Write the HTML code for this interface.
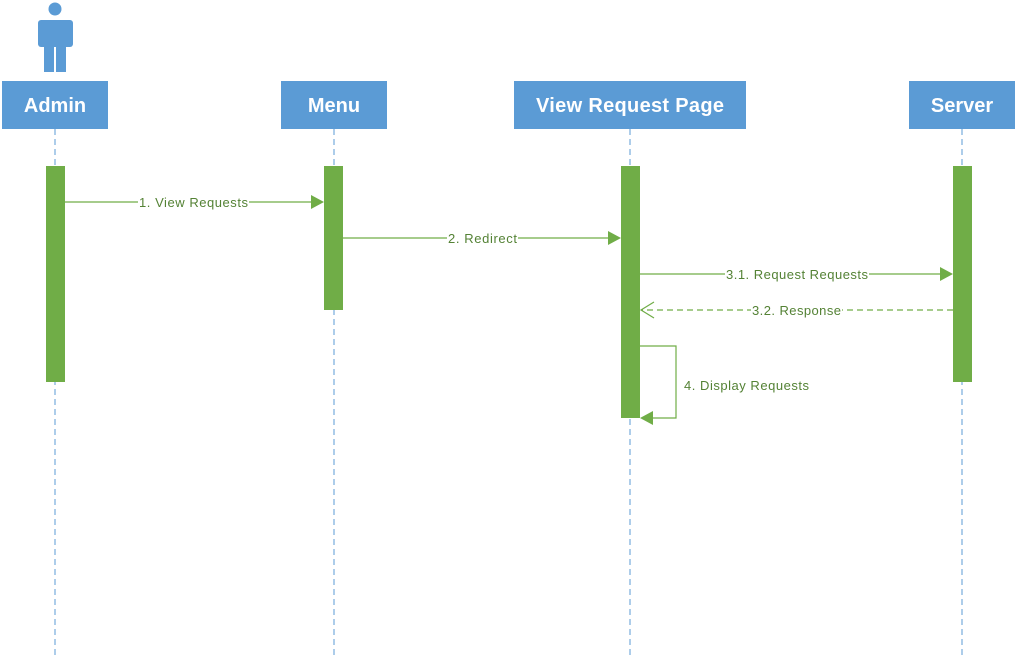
<!DOCTYPE html>
<html><head><style>
body{margin:0;background:#fff;}
svg{display:block;font-family:"Liberation Sans",sans-serif;}
</style></head><body>
<svg width="1018" height="656" viewBox="0 0 1018 656">
<g stroke="#5B9BD5" stroke-width="1" stroke-dasharray="6,4">
<line x1="55" y1="129" x2="55" y2="656"/>
<line x1="334" y1="129" x2="334" y2="656"/>
<line x1="630" y1="129" x2="630" y2="656"/>
<line x1="962" y1="129" x2="962" y2="656"/>
</g>
<g fill="#5B9BD5">
<circle cx="55" cy="9" r="6.5"/>
<rect x="38" y="20" width="35" height="27" rx="3"/>
<rect x="44" y="40" width="10" height="32"/>
<rect x="56" y="40" width="10" height="32"/>
</g>
<g fill="#5B9BD5">
<rect x="2" y="81" width="106" height="48"/>
<rect x="281" y="81" width="106" height="48"/>
<rect x="514" y="81" width="232" height="48"/>
<rect x="909" y="81" width="106" height="48"/>
</g>
<g fill="#fff" font-weight="bold" font-size="20" text-anchor="middle">
<text x="55" y="112">Admin</text>
<text x="334" y="112">Menu</text>
<text x="630" y="112" textLength="188">View Request Page</text>
<text x="962" y="112">Server</text>
</g>
<g fill="#70AD47">
<rect x="46" y="166" width="19" height="216"/>
<rect x="324" y="166" width="19" height="144"/>
<rect x="621" y="166" width="19" height="252"/>
<rect x="953" y="166" width="19" height="216"/>
</g>
<g stroke="#70AD47" stroke-width="1.2" fill="none">
<line x1="65" y1="202" x2="312" y2="202"/>
<line x1="343" y1="238" x2="609" y2="238"/>
<line x1="640" y1="274" x2="941" y2="274"/>
<line x1="953" y1="310" x2="641" y2="310" stroke-dasharray="6,4"/>
<polyline points="654,302 641,310 654,318"/>
<polyline points="640,346 676,346 676,418 652,418"/>
</g>
<g fill="#70AD47">
<polygon points="311,195 324,202 311,209"/>
<polygon points="608,231 621,238 608,245"/>
<polygon points="940,267 953,274 940,281"/>
<polygon points="653,411 640,418 653,425"/>
</g>
<g fill="#548235" font-size="13">
<rect x="138" y="194" width="111" height="16" fill="#fff"/>
<text x="139" y="207" textLength="109">1. View Requests</text>
<rect x="447" y="230" width="71" height="16" fill="#fff"/>
<text x="448" y="243" textLength="69">2. Redirect</text>
<rect x="725" y="266" width="144" height="16" fill="#fff"/>
<text x="726" y="279" textLength="142">3.1. Request Requests</text>
<rect x="751" y="302" width="91" height="16" fill="#fff"/>
<text x="752" y="315" textLength="89">3.2. Response</text>
<text x="684" y="390" textLength="125">4. Display Requests</text>
</g>
</svg>
</body></html>
